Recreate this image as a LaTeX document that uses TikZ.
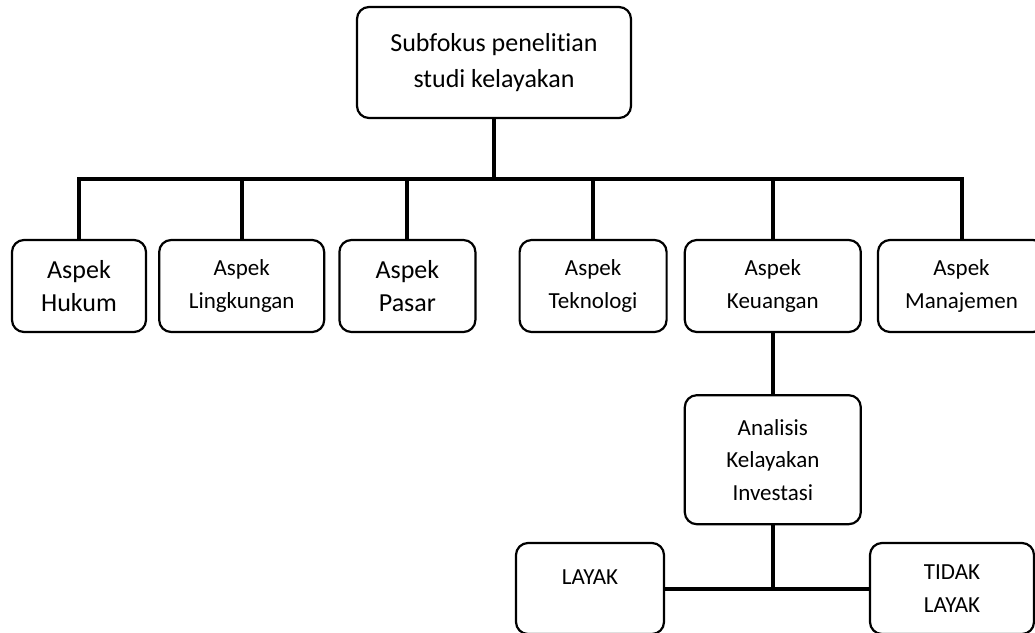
\documentclass[tikz,border=0pt]{standalone}
\usepackage{fontspec}
\setmainfont{Carlito}[Ligatures=CommonOff]
\usetikzlibrary{positioning}

\begin{document}
\begin{tikzpicture}[
			x=1pt, y=-1pt,
			box/.style = {draw, rounded corners=12pt, line width=2.2pt, align=center, inner sep=0pt, minimum height=92pt},
			big/.style = {font=\fontsize{26}{33}\selectfont},
			small/.style = {font=\fontsize{23}{32.5}\selectfont},
			link/.style = {line width=4pt}
		]
		\useasboundingbox (0,0) rectangle (1035,632);
		\node[box, big, minimum width=274pt, minimum height=111pt, font=\fontsize{26}{36}\selectfont] (top) at (494,62.5) {Subfokus penelitian\\studi kelayakan};
		\node[box, big, minimum width=134pt] (hukum) at (79,286) {Aspek\\Hukum};
		\node[box, small, minimum width=165pt] (lingk) [right=11pt of hukum] {Aspek\\Lingkungan};
		\node[box, big, minimum width=136pt] (pasar) [right=13pt of lingk] {Aspek\\Pasar};
		\node[box, small, minimum width=147pt] (tekno) [right=42pt of pasar] {Aspek\\Teknologi};
		\node[box, small, minimum width=176pt] (keu) [right=16pt of tekno] {Aspek\\Keuangan};
		\node[box, small, minimum width=167pt] (manaj) [right=15pt of keu] {Aspek\\Manajemen};
		\node[box, small, minimum width=176pt, minimum height=129pt] (ana) [below=61pt of keu] {Analisis\\Kelayakan\\Investasi};
		\node[box, small, minimum width=148pt, minimum height=91pt] (layak) at (590,588.5) {\raisebox{11pt}[\height][\depth]{LAYAK}};
		\node[box, small, minimum width=164pt, minimum height=91pt] (tidak) at (952,588.5) {TIDAK\\LAYAK};
		\coordinate (junc) at (494,179);
		\coordinate (split) at (ana.south |- layak.east);
		\draw[link] (top) -- (junc);
		\draw[link] (hukum.north) -- (hukum.north |- junc) -- (manaj.north |- junc) -- (manaj.north);
		\foreach \n in {lingk, pasar, tekno, keu}
			\draw[link] (\n.north) -- (\n.north |- junc);
		\draw[link] (keu) -- (ana);
		\draw[link] (ana) -- (split);
		\draw[link] (layak) -- (tidak);
	\end{tikzpicture}
\end{document}
